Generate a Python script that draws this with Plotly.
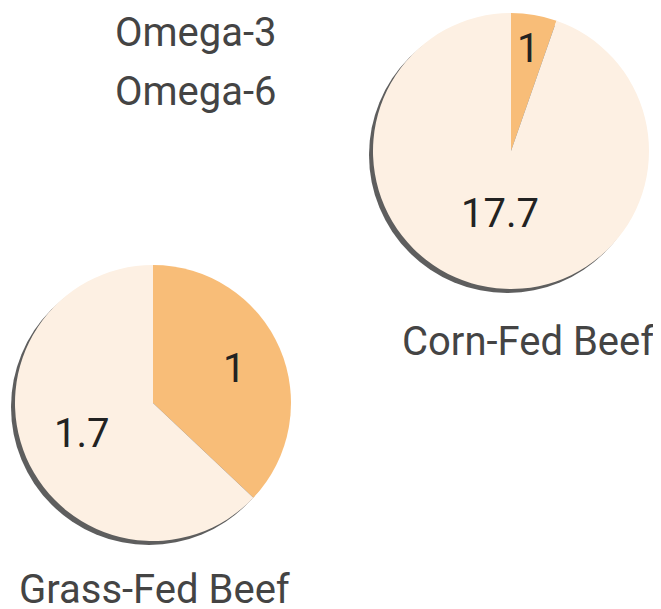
import math
import plotly.graph_objects as go

VW, VH = 661, 609
OFF = 8  # default page body margin
W, H = VW - OFF, VH - OFF

# Data
fatty_acids = ["Omega-3", "Omega-6"]
corn_fed_values = [1, 17.7]
grass_fed_values = [1, 1.7]
beef_types = ["Corn-Fed Beef", "Grass-Fed Beef"]

colors = ["#F8BD78", "#FDF0E3"]
shadow_color = "#5E5E5E"
FONT = "Roboto"


def px(x):
    return (x - OFF) / W


def py(y):
    return 1 - (y - OFF) / H


def dom(cx, cy, r):
    return dict(x=[px(cx - r), px(cx + r)], y=[py(cy + r), py(cy - r)])


R = 138
corn_c = (511, 151)
grass_c = (153, 403)
sh = (-4, 4)

fig = go.Figure()

for (cx, cy) in [corn_c, grass_c]:
    fig.add_trace(go.Pie(
        values=[1], labels=["shadow"], domain=dom(cx + sh[0], cy + sh[1], R),
        marker=dict(colors=[shadow_color], line=dict(width=0)),
        textinfo="none", hoverinfo="skip", showlegend=False, sort=False,
    ))

for vals, c in [(corn_fed_values, corn_c), (grass_fed_values, grass_c)]:
    fig.add_trace(go.Pie(
        values=vals, labels=fatty_acids, domain=dom(*c, R),
        marker=dict(colors=colors, line=dict(width=0)),
        sort=False, direction="clockwise", rotation=0,
        textinfo="none", showlegend=False,
    ))


def slice_labels(vals, c, fracs):
    out = []
    total = sum(vals)
    start = 0.0
    for v, f in zip(vals, fracs):
        ang = 360 * v / total
        mid = math.radians(start + ang / 2)
        start += ang
        x = c[0] + f * R * math.sin(mid)
        y = c[1] - f * R * math.cos(mid)
        out.append(dict(text=f"{v:g}", x=px(x), y=py(y), xanchor="center", yanchor="middle",
                        font=dict(family=FONT, size=40, color="#222222")))
    return out


annotations = [
    dict(text=fatty_acids[0], x=px(279), y=py(33), xanchor="right", yanchor="middle",
         font=dict(family=FONT, size=40, color="#444444")),
    dict(text=fatty_acids[1], x=px(279), y=py(92), xanchor="right", yanchor="middle",
         font=dict(family=FONT, size=40, color="#444444")),
    dict(text=beef_types[0], x=px(528), y=py(342), xanchor="center", yanchor="middle",
         font=dict(family=FONT, size=40, color="#444444")),
    dict(text=beef_types[1], x=px(154), y=py(589), xanchor="center", yanchor="middle",
         font=dict(family=FONT, size=40, color="#444444")),
]
annotations += slice_labels(corn_fed_values, corn_c, [0.75, 0.46])
annotations += slice_labels(grass_fed_values, grass_c, [0.64, 0.56])
for a in annotations:
    a.update(xref="paper", yref="paper", showarrow=False)

fig.update_layout(
    width=W, height=H, autosize=False,
    margin=dict(l=0, r=0, t=0, b=0),
    paper_bgcolor="white", plot_bgcolor="white",
    annotations=annotations,
)

fig.write_html("out.html")
